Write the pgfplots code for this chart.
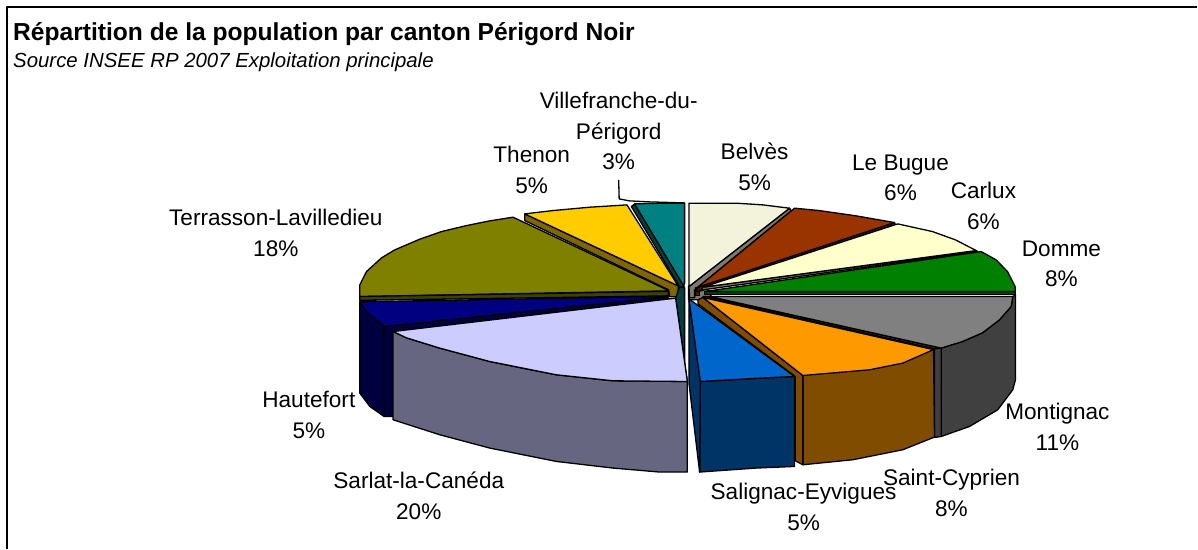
\documentclass[border=0pt]{standalone}
\usepackage{fontspec}
\setmainfont{Liberation Sans}
\usepackage{pgfplots}
\pgfplotsset{compat=1.18}
\definecolor{olivetop}{HTML}{808000}
\definecolor{olivedk}{HTML}{404000}
\definecolor{yellowtop}{HTML}{FFCC00}
\definecolor{yellowdk}{HTML}{806600}
\definecolor{tealtop}{HTML}{008080}
\definecolor{tealdk}{HTML}{004040}
\definecolor{navytop}{HTML}{000080}
\definecolor{navydk}{HTML}{000040}
\definecolor{lilactop}{HTML}{CCCCFF}
\definecolor{lilacdk}{HTML}{666680}
\definecolor{paletop}{HTML}{F3F3DC}
\definecolor{paledk}{HTML}{7A7A6E}
\definecolor{browntop}{HTML}{993300}
\definecolor{browndk}{HTML}{4D1A00}
\definecolor{creamtop}{HTML}{FFFFCC}
\definecolor{creamdk}{HTML}{808066}
\definecolor{greentop}{HTML}{008000}
\definecolor{greendk}{HTML}{004000}
\definecolor{greytop}{HTML}{808080}
\definecolor{greydk}{HTML}{404040}
\definecolor{orangetop}{HTML}{FF9900}
\definecolor{orangedk}{HTML}{804D00}
\definecolor{bluetop}{HTML}{0066CC}
\definecolor{bluedk}{HTML}{003366}
\tikzset{lab/.style={align=center,font=\fontsize{22.6}{30.5}\selectfont,inner sep=0pt}}
\begin{document}
\begin{tikzpicture}
\begin{axis}[
scale only axis,
width=1198pt,height=549pt,
xmin=0,xmax=1198,ymin=0,ymax=549,
y dir=reverse,
hide axis,
clip=false,
every axis plot post/.append style={sharp plot,no marks,draw=black,line width=1.3pt,line join=round},
]
\path (axis cs:0,0) rectangle (axis cs:1198,549);
% frame, open at right and bottom
\addplot[line width=2pt,fill=none] coordinates {(7,549) (7,7) (1198,7)};
% leader line of Villefranche
\addplot[line width=0.9pt,fill=none] coordinates {(619,180) (619.5,199) (630,201) (650,202) (685,203)};
% back left
\addplot[fill=olivetop] coordinates {(669.5,291) (513.3,217.3) (490,221) (466.7,225.7) (441.7,231.7) (420,239.3) (395,250) (381.7,258) (366.7,271.7) (360,285) (360,296.7)} -- cycle;
\addplot[fill=olivedk] coordinates {(360,296.7) (669,291.5) (669,296) (360,300.5)} -- cycle;
\addplot[fill=yellowdk] coordinates {(525,214) (678.5,286) (679,297) (670,297) (669,290) (525,220.7)} -- cycle;
\addplot[fill=yellowtop] coordinates {(525,214) (553,210.7) (590,207.3) (627.3,205) (678.5,286)} -- cycle;
\addplot[fill=tealdk] coordinates {(631.7,206.7) (635,204) (684,286) (685,288) (680,287)} -- cycle;
\addplot[fill=tealdk] coordinates {(676,298) (680,287) (685,288) (685,380) (687.7,381.7)} -- cycle;
\addplot[fill=tealtop] coordinates {(635,204) (660,203.3) (685,203.3) (685,283) (684,286)} -- cycle;
% navy
\addplot[fill=navydk] coordinates {(360,302) (384.3,326.7) (384.3,416.7) (370,406.7) (360,393.3)} -- cycle;
\addplot[fill=navytop] coordinates {(360,302) (668.3,296.5) (668.3,299) (384.3,326.7) (368,313)} -- cycle;
\addplot[fill=navydk] coordinates {(384.3,326.7) (668.3,296.7) (668.3,299.3) (393.3,331.7) (393.3,416.7) (384.3,416.7)} -- cycle;
% lilac
\addplot[fill=lilacdk] coordinates {(393.3,331.7) (406.7,338) (440,348.3) (490,361.7) (556.7,375) (613.3,381) (687.7,381.7) (687.7,472.3) (660,472.3) (613.3,468.3) (556.7,461.7) (490,448.3) (440,435) (393.3,420)} -- cycle;
\addplot[fill=lilactop] coordinates {(393.3,331.7) (676,298.3) (687.7,381.7) (613.3,381) (556.7,375) (490,361.7) (440,348.3) (406.7,338)} -- cycle;
% centre of the right half
\addplot[draw=none,fill=paledk] coordinates {(689,286) (706,286) (712,297) (700,300) (689,300)} -- cycle;
% back right
\addplot[fill=paledk] coordinates {(790,208.3) (791.7,211) (695,290) (695,298) (690,298) (689.3,286.7)} -- cycle;
\addplot[fill=paletop] coordinates {(689.3,203.3) (736.7,203.3) (763.3,205) (790,208.3) (689.3,286.7)} -- cycle;
\addplot[fill=browndk] coordinates {(696,288) (700,288) (700,296) (696,296)} -- cycle;
\addplot[fill=browndk] coordinates {(895,222.7) (896,225) (698.3,291.7) (696,292) (698.3,287.3)} -- cycle;
\addplot[fill=browntop] coordinates {(795,208.3) (820,210.7) (856.7,216) (895,222.7) (698.3,287.3)} -- cycle;
\addplot[fill=creamdk] coordinates {(976.7,250.7) (978.3,251.7) (703.3,290) (701,291) (703.3,287.3)} -- cycle;
\addplot[fill=creamtop] coordinates {(898.3,224) (933,231.7) (956,240) (976.7,250.7) (703.3,287.3)} -- cycle;
\addplot[fill=greendk] coordinates {(705,291.7) (1015.7,291.7) (1015.7,295) (705,295)} -- cycle;
\addplot[fill=greentop] coordinates {(981.7,251.7) (996.7,260) (1008,271.7) (1015.7,286.7) (1015.7,291.7) (705,291.7)} -- cycle;
% grey
\addplot[fill=greydk] coordinates {(941.7,348.3) (963,341.7) (983,333) (1000,320) (1011.7,306.7) (1013.3,296.7) (1016,295) (1016,380) (1013.3,390) (998.3,410) (970,426.7) (941.7,436.7)} -- cycle;
\addplot[fill=greydk] coordinates {(703.3,296.7) (710,296.7) (941.7,348.3) (935,349)} -- cycle;
\addplot[fill=greydk] coordinates {(935,349) (941.7,348.3) (941.7,436.7) (935,437.7)} -- cycle;
\addplot[fill=greytop] coordinates {(1013.3,296.7) (1011.7,306.7) (1000,320) (983,333) (963,341.7) (941.7,348.3) (710,296.7)} -- cycle;
% orange
\addplot[fill=orangedk] coordinates {(803.3,375.7) (934,349.8) (935,437.3) (903.3,450) (853.3,460) (803.3,465)} -- cycle;
\addplot[fill=orangedk] coordinates {(698.3,300) (703.3,297.6) (803.3,375.7) (803.3,465) (795.7,461) (795.7,376.7) (698.3,304)} -- cycle;
\addplot[fill=orangetop] coordinates {(703.3,297.6) (934,349.8) (903.3,363.3) (870,370) (803.3,375.7)} -- cycle;
% blue
\addplot[fill=bluedk] coordinates {(700.7,381.7) (795,376.7) (795,466.7) (756.7,468.3) (700,472.3)} -- cycle;
\addplot[fill=bluedk] coordinates {(689.3,299) (700.7,381.7) (700,472.3) (689.3,383.3)} -- cycle;
\addplot[fill=bluetop] coordinates {(689.3,299) (795,376.7) (760,378.3) (700.7,381.7)} -- cycle;
% texts
\node[anchor=base west,inner sep=0pt,font=\fontsize{24.6}{28}\selectfont\bfseries] at (axis cs:13,41) {Répartition de la population par canton Périgord Noir};
\node[anchor=base west,inner sep=0pt,font=\fontsize{20.4}{24}\selectfont\itshape] at (axis cs:13,68) {Source INSEE RP 2007 Exploitation principale};
\node[lab] at (axis cs:619,131) {Villefranche-du-\\Périgord\\3\%};
\node[lab] at (axis cs:532,170) {Thenon\\5\%};
\node[lab] at (axis cs:755,167) {Belvès\\5\%};
\node[lab] at (axis cs:901,178) {Le Bugue\\6\%};
\node[lab] at (axis cs:984,206) {Carlux\\6\%};
\node[lab] at (axis cs:1062,264) {Domme\\8\%};
\node[lab] at (axis cs:276,233) {Terrasson-Lavilledieu\\18\%};
\node[lab] at (axis cs:309,415) {Hautefort\\5\%};
\node[lab] at (axis cs:419,496) {Sarlat-la-Canéda\\20\%};
\node[lab] at (axis cs:804,507) {Salignac-Eyvigues\\5\%};
\node[lab] at (axis cs:952,493) {Saint-Cyprien\\8\%};
\node[lab] at (axis cs:1058,427) {Montignac\\11\%};
\end{axis}
\end{tikzpicture}
\end{document}
